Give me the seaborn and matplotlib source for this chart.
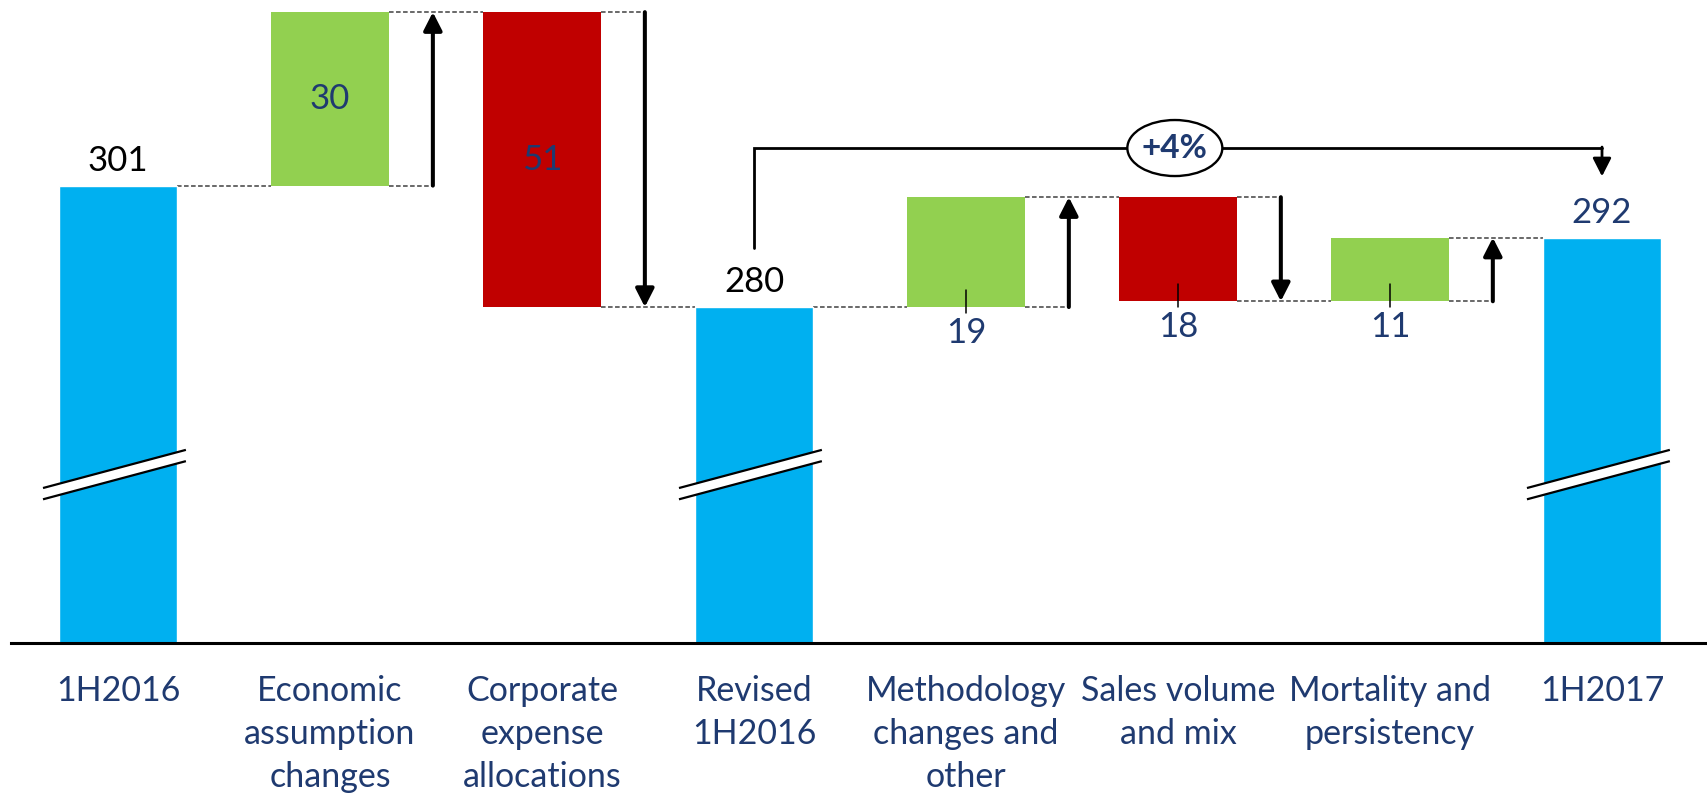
import matplotlib
matplotlib.use("Agg")
import matplotlib.pyplot as plt
from matplotlib.patches import Ellipse, Polygon
import seaborn as sns
import pandas as pd
import numpy as np

# ---- data -------------------------------------------------------------
categories = ["1H2016", "Economic\nassumption\nchanges", "Corporate\nexpense\nallocations",
              "Revised\n1H2016", "Methodology\nchanges and\nother", "Sales volume\nand mix",
              "Mortality and\npersistency", "1H2017"]
kinds = ["total", "delta", "delta", "total", "delta", "delta", "delta", "total"]
values = [301, 30, -51, 280, 19, -18, 11, 292]
growth_label = "+4%"

# ---- styling ------------------------------------------------------------
BLUE = "#00B0F0"
GREEN = "#92D050"
RED = "#C00000"
NAVY = "#1F3A70"
DASH = "#404040"
BAR_W = 0.557

sns.set_theme(style="white")
plt.rcParams["font.family"] = ["Lato", "DejaVu Sans"]

# running levels of the waterfall
starts, ends = [], []
level = 0
for k, v in zip(kinds, values):
    if k == "total":
        starts.append(v)
        ends.append(v)
        level = v
    else:
        starts.append(level)
        level = level + v
        ends.append(level)

df = pd.DataFrame({"category": categories, "kind": kinds, "value": values,
                   "start": starts, "end": ends})
df["total"] = np.where(df["kind"] == "total", df["value"], np.nan)

fig = plt.figure(figsize=(17.08, 7.96), dpi=100)
ax = fig.add_axes([11 / 1708, 1 - 643 / 796, 1 - 11 / 1708, 643 / 796])

# total bars (the value axis is broken, so they rise from below the visible range)
sns.barplot(data=df, x="category", y="total", order=categories, color=BLUE,
            width=BAR_W, saturation=1, ax=ax, zorder=2)

# floating change bars
pos = np.arange(len(categories))
for i, row in df.iterrows():
    if row["kind"] != "delta":
        continue
    lo, hi = min(row["start"], row["end"]), max(row["start"], row["end"])
    ax.bar(pos[i], hi - lo, bottom=lo, width=BAR_W,
           color=GREEN if row["value"] > 0 else RED, zorder=2, linewidth=0)

ax.set_ylim(221.9, 333.1)
ax.set_xlim(-0.505, len(categories) - 0.5)

half = BAR_W / 2
dash_kw = dict(color=DASH, lw=1.1, ls=(0, (3, 1.6)), zorder=1)
arrow_off = 0.485

for i, row in df.iterrows():
    # connector from this bar's end level to the next bar
    if i < len(df) - 1:
        ax.plot([pos[i] + half, pos[i + 1] - half], [row["end"], row["end"]], **dash_kw)
    if row["kind"] == "delta":
        ax_x = pos[i] + arrow_off
        ax.plot([pos[i] + half, ax_x], [row["start"], row["start"]], **dash_kw)
        ax.annotate("", xy=(ax_x, row["end"]), xytext=(ax_x, row["start"]),
                    arrowprops=dict(arrowstyle="-|>,head_length=0.55,head_width=0.28",
                                    color="black", lw=2.9, shrinkA=0, shrinkB=0,
                                    mutation_scale=20), zorder=4)

# value labels
for i, row in df.iterrows():
    if row["kind"] == "total":
        col = NAVY if i == len(df) - 1 else "black"
        ax.annotate(f"{row['value']}", xy=(pos[i], row["end"]), xytext=(0, 18),
                    textcoords="offset points", ha="center", va="center",
                    fontsize=25, color=col)
    elif abs(row["value"]) >= 25:
        ax.text(pos[i], (row["start"] + row["end"]) / 2, f"{abs(row['value'])}",
                ha="center", va="center", fontsize=25, color=NAVY, zorder=3)
    else:
        lo = min(row["start"], row["end"])
        ax.plot([pos[i], pos[i]], [lo + 2.9, lo - 1.0], color="black", lw=1.1, zorder=3)
        ax.annotate(f"{abs(row['value'])}", xy=(pos[i], lo), xytext=(0, -18.5),
                    textcoords="offset points", ha="center", va="center",
                    fontsize=25, color=NAVY)

# axis-break marks on the total bars
for i, row in df.iterrows():
    if row["kind"] != "total":
        continue
    x0, x1 = pos[i] - 0.354, pos[i] + 0.32
    y0, y1 = 248.7, 255.3
    gap = 1.95
    ax.add_patch(Polygon([[x0, y0], [x1, y1], [x1, y1 - gap], [x0, y0 - gap]],
                         closed=True, facecolor="white", edgecolor="none", zorder=5))
    ax.plot([x0, x1], [y0, y1], color="black", lw=1.6, zorder=6, solid_capstyle="butt")
    ax.plot([x0, x1], [y0 - gap, y1 - gap], color="black", lw=1.6, zorder=6,
            solid_capstyle="butt")

# growth bracket from revised 1H2016 to 1H2017
i_from, i_to = 3, 7
y_top = 307.5
ax.plot([pos[i_from], pos[i_from], pos[i_to]], [290.2, y_top, y_top],
        color="black", lw=2.0, zorder=3, solid_joinstyle="miter")
ax.annotate("", xy=(pos[i_to], 302.6), xytext=(pos[i_to], y_top + 0.17),
            arrowprops=dict(arrowstyle="-|>,head_length=0.55,head_width=0.28",
                            color="black", lw=2.0, shrinkA=0, shrinkB=0,
                            mutation_scale=20), zorder=3)
cx = (pos[i_from] + pos[i_to]) / 2 - 0.015
ax.add_patch(Ellipse((cx, y_top), width=95 / 212, height=56 / 5.78,
                     facecolor="white", edgecolor="black", lw=1.7, zorder=4))
ax.text(cx, y_top, growth_label, ha="center", va="center", fontsize=24,
        fontweight="bold", color=NAVY, zorder=5)

# axes cosmetics
ax.set_xlabel("")
ax.set_ylabel("")
ax.set_yticks([])
ax.set_xticks(pos)
ax.set_xticklabels(categories, fontsize=24.5, color=NAVY, linespacing=1.42)
ax.tick_params(axis="x", length=0, pad=23)
for s in ["top", "left", "right"]:
    ax.spines[s].set_visible(False)
ax.spines["bottom"].set_color("black")
ax.spines["bottom"].set_linewidth(2.2)
ax.spines["bottom"].set_zorder(7)

fig.savefig("out.png", dpi=100, facecolor="white")
